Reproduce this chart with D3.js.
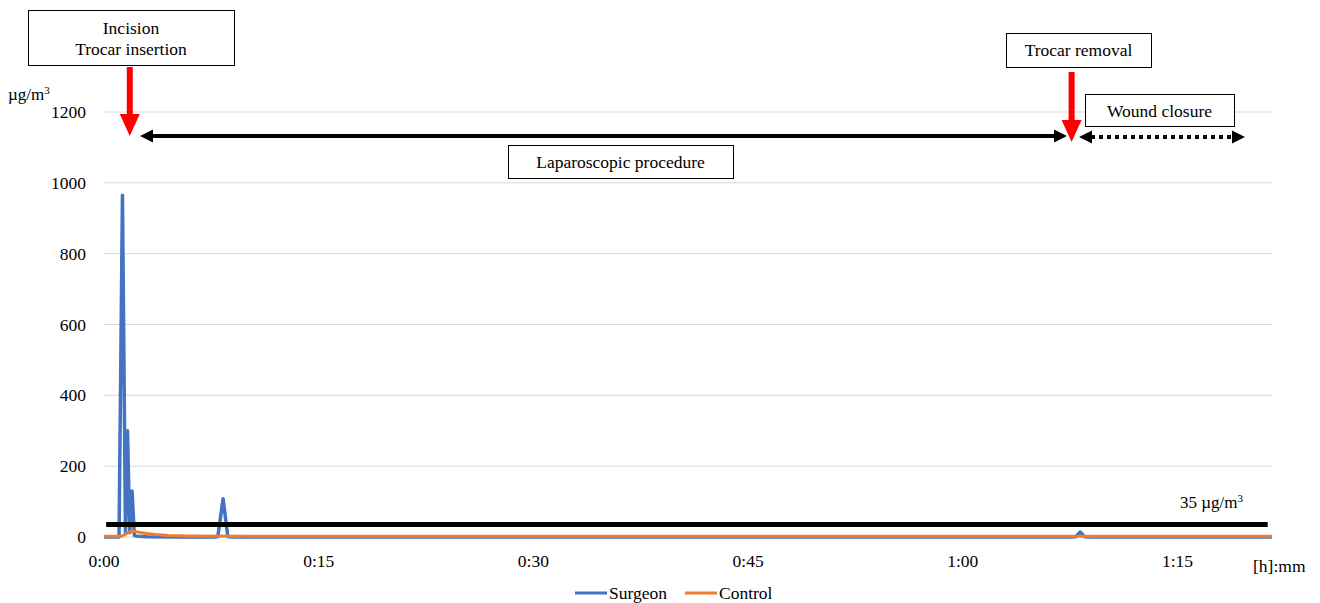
<!DOCTYPE html>
<html><head><meta charset="utf-8">
<script src="https://cdn.jsdelivr.net/npm/d3@7"></script>
<style>
body{margin:0;background:#fff;}
</style></head>
<body><svg id="c" width="1320" height="603" style="font-family:'Liberation Serif','DejaVu Serif',serif"></svg>
<script>
// ---- data (time in minutes, concentration in µg/m3) ----
const surgeonTime  = [0, 0.9, 1.05, 1.29, 1.5, 1.64, 1.8, 1.96, 2.12, 2.4, 3, 5, 7.6, 7.95, 8.32, 8.65, 9.5, 20, 35, 50, 60, 67.5, 67.9, 68.2, 68.5, 69, 75, 81.6];
const surgeonValue = [0, 0, 0, 965, 15, 300, 12, 130, 4, 2, 1, 0, 0, 1, 108, 1, 0, 0, 0, 0, 0, 0, 1, 14, 1, 0, 0, 0];
const controlTime  = [0, 1.2, 1.5, 1.8, 2.1, 2.5, 3.0, 3.6, 4.5, 6, 10, 30, 50, 70, 81.6];
const controlValue = [2, 2, 8, 15, 16, 13, 10, 7, 4, 3, 2, 2, 2, 2, 2];
const yTicks = [0, 200, 400, 600, 800, 1000, 1200];
const xTicks = [0, 15, 30, 45, 60, 75];
const threshold = 35;
const seriesNames = ["Surgeon", "Control"];
const eventIncision = 1.8, eventTrocarRemoval = 67.6;

const FONT = "'Liberation Serif','DejaVu Serif',serif";
const svg = d3.select("#c");
const x = d3.scaleLinear().domain([0, 81.6]).range([104, 1272]);
const y = d3.scaleLinear().domain([0, 1200]).range([537, 112]);
const colors = ["#4472C4", "#ED7D31"];
const T = (sel, size) => sel.style("font-family", FONT).style("font-size", size).attr("fill", "#000");

// gridlines
svg.append("g").selectAll("line").data(yTicks).join("line")
  .attr("x1", x(0)).attr("x2", x(81.6))
  .attr("y1", d => y(d)).attr("y2", d => y(d))
  .attr("stroke", "#d9d9d9").attr("stroke-width", 1);

// y axis labels
T(svg.append("g").selectAll("text").data(yTicks).join("text")
  .attr("x", 86).attr("y", d => y(d)).attr("dy", "0.35em")
  .attr("text-anchor", "end").text(d => d), "17.5px");
const yl = T(svg.append("text").attr("x", 8).attr("y", 100), "17px");
yl.append("tspan").text("µg/m");
yl.append("tspan").attr("dy", -6).style("font-size", "11px").text("3");

// x axis labels
const fmt = m => Math.floor(m / 60) + ":" + String(m % 60).padStart(2, "0");
T(svg.append("g").selectAll("text").data(xTicks).join("text")
  .attr("x", d => x(d)).attr("y", 567).attr("text-anchor", "middle").text(fmt), "17.5px");
T(svg.append("text").attr("x", 1253).attr("y", 572).text("[h]:mm"), "17.5px");

// series
const line = d3.line().x(d => x(d[0])).y(d => y(d[1]));
svg.append("path").datum(d3.zip(surgeonTime, surgeonValue))
  .attr("d", line).attr("fill", "none").attr("stroke", colors[0])
  .attr("stroke-width", 3.5).attr("stroke-linejoin", "round");
svg.append("path").datum(d3.zip(controlTime, controlValue))
  .attr("d", line).attr("fill", "none").attr("stroke", colors[1])
  .attr("stroke-width", 3).attr("stroke-linejoin", "round");

// threshold
svg.append("line").attr("x1", x(0.15)).attr("x2", x(81.3))
  .attr("y1", y(threshold)).attr("y2", y(threshold))
  .attr("stroke", "#000").attr("stroke-width", 5);
const tl = T(svg.append("text").attr("x", 1180).attr("y", 508), "17px");
tl.append("tspan").text("35 µg/m");
tl.append("tspan").attr("dy", -6).style("font-size", "11px").text("3");

// annotation boxes
function box(x0, y0, w, h, lines, lineH, firstY) {
  svg.append("rect").attr("x", x0 + 0.5).attr("y", y0 + 0.5).attr("width", w).attr("height", h)
    .attr("fill", "#fff").attr("stroke", "#000").attr("stroke-width", 1);
  lines.forEach((t, i) => T(svg.append("text").attr("x", x0 + w / 2).attr("y", firstY + i * lineH)
    .attr("dy", "0.35em").attr("text-anchor", "middle").text(t), "17.5px"));
}
box(28, 10, 206, 55, ["Incision", "Trocar insertion"], 21, 28);
box(508, 145, 225, 33, ["Laparoscopic procedure"], 0, 162);
box(1006, 33, 145, 34, ["Trocar removal"], 0, 50);
box(1085, 94, 149, 32, ["Wound closure"], 0, 111);

// red arrows
function redArrow(cx, top, tip) {
  const hs = tip - 22;
  svg.append("path").attr("fill", "#ff0000").attr("d",
    `M${cx - 3},${top} L${cx + 3},${top} L${cx + 3},${hs} L${cx + 10},${hs} L${cx},${tip} L${cx - 10},${hs} L${cx - 3},${hs} Z`);
}
redArrow(x(eventIncision), 67, 136);
redArrow(x(eventTrocarRemoval), 72, 142);

// black double arrows
function dbl(x1, x2, yy, dashed) {
  const hl = 13, hh = 6.5;
  svg.append("line").attr("x1", x1 + hl - 1).attr("x2", x2 - hl + 1).attr("y1", yy).attr("y2", yy)
    .attr("stroke", "#000").attr("stroke-width", 4)
    .attr("stroke-dasharray", dashed ? "4,4" : null);
  svg.append("path").attr("fill", "#000").attr("d",
    `M${x1},${yy} L${x1 + hl},${yy - hh} L${x1 + hl},${yy + hh} Z M${x2},${yy} L${x2 - hl},${yy - hh} L${x2 - hl},${yy + hh} Z`);
}
dbl(140, 1067, 136, false);
dbl(1079, 1245, 137, true);

// legend
const lg = svg.append("g");
[[575, 609], [685, 719]].forEach((p, i) => {
  lg.append("line").attr("x1", p[0]).attr("x2", p[0] + 32).attr("y1", 593).attr("y2", 593)
    .attr("stroke", colors[i]).attr("stroke-width", 3);
  T(lg.append("text").attr("x", p[1]).attr("y", 593).attr("dy", "0.35em").text(seriesNames[i]), "17.5px");
});
</script></body></html>
